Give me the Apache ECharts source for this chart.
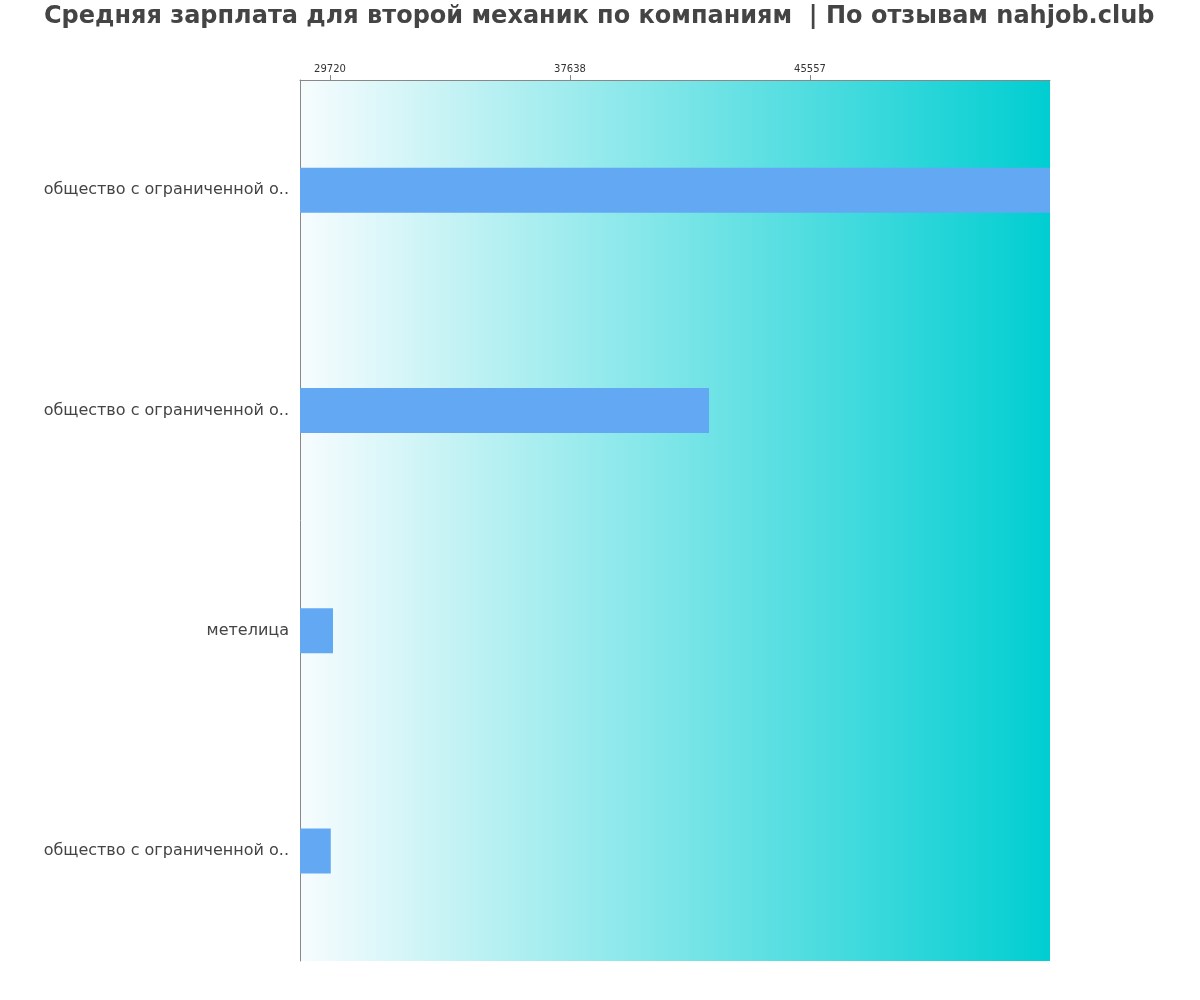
<!DOCTYPE html>
<html><head><meta charset="utf-8">
<script src="https://cdn.jsdelivr.net/npm/echarts@6/dist/echarts.min.js"></script>
<style>html,body{margin:0;padding:0;background:#fff}#c{width:1200px;height:1000px}</style>
</head><body><div id="c"></div>
<script>
const titleText = 'Средняя зарплата для второй механик по компаниям  | По отзывам nahjob.club';
const categories = ['общество с ограниченной о..', 'общество с ограниченной о..', 'метелица', 'общество с ограниченной о..'];
const salaries = [53475, 42225, 29819, 29745];
const tickValues = [29720, 37638, 45557];
const axisMin = 28730;
const axisMax = 53475;

const chart = echarts.init(document.getElementById('c'));
chart.setOption({
  animation: false,
  title: {
    text: titleText, left: 39, top: 0,
    textStyle: { fontFamily: '"DejaVu Sans"', fontWeight: 'bold', fontSize: 24, color: '#444' }
  },
  grid: {
    left: 300, right: 150, top: 80, bottom: 39, show: true, borderWidth: 0,
    backgroundColor: new echarts.graphic.LinearGradient(0, 0, 1, 0, [
      { offset: 0, color: '#f7fcfe' }, { offset: 1, color: '#00ced1' }
    ])
  },
  xAxis: {
    type: 'value', position: 'top', min: axisMin, max: axisMax,
    axisLine: { show: true, lineStyle: { color: '#888' } },
    axisTick: { show: true, customValues: tickValues, length: 5, lineStyle: { color: '#888' } },
    axisLabel: { customValues: tickValues, formatter: v => String(v), fontFamily: '"DejaVu Sans"', fontSize: 10, color: '#333', margin: 6 },
    splitLine: { show: false }
  },
  yAxis: {
    type: 'category', inverse: true, data: categories,
    axisLine: { show: true, lineStyle: { color: '#888' } },
    axisTick: { show: false },
    axisLabel: { fontFamily: '"DejaVu Sans"', fontSize: 16, color: '#444', margin: 11 }
  },
  series: [{
    type: 'bar', data: salaries, barWidth: 45,
    itemStyle: { color: '#62a8f3' }
  }]
});
</script></body></html>
